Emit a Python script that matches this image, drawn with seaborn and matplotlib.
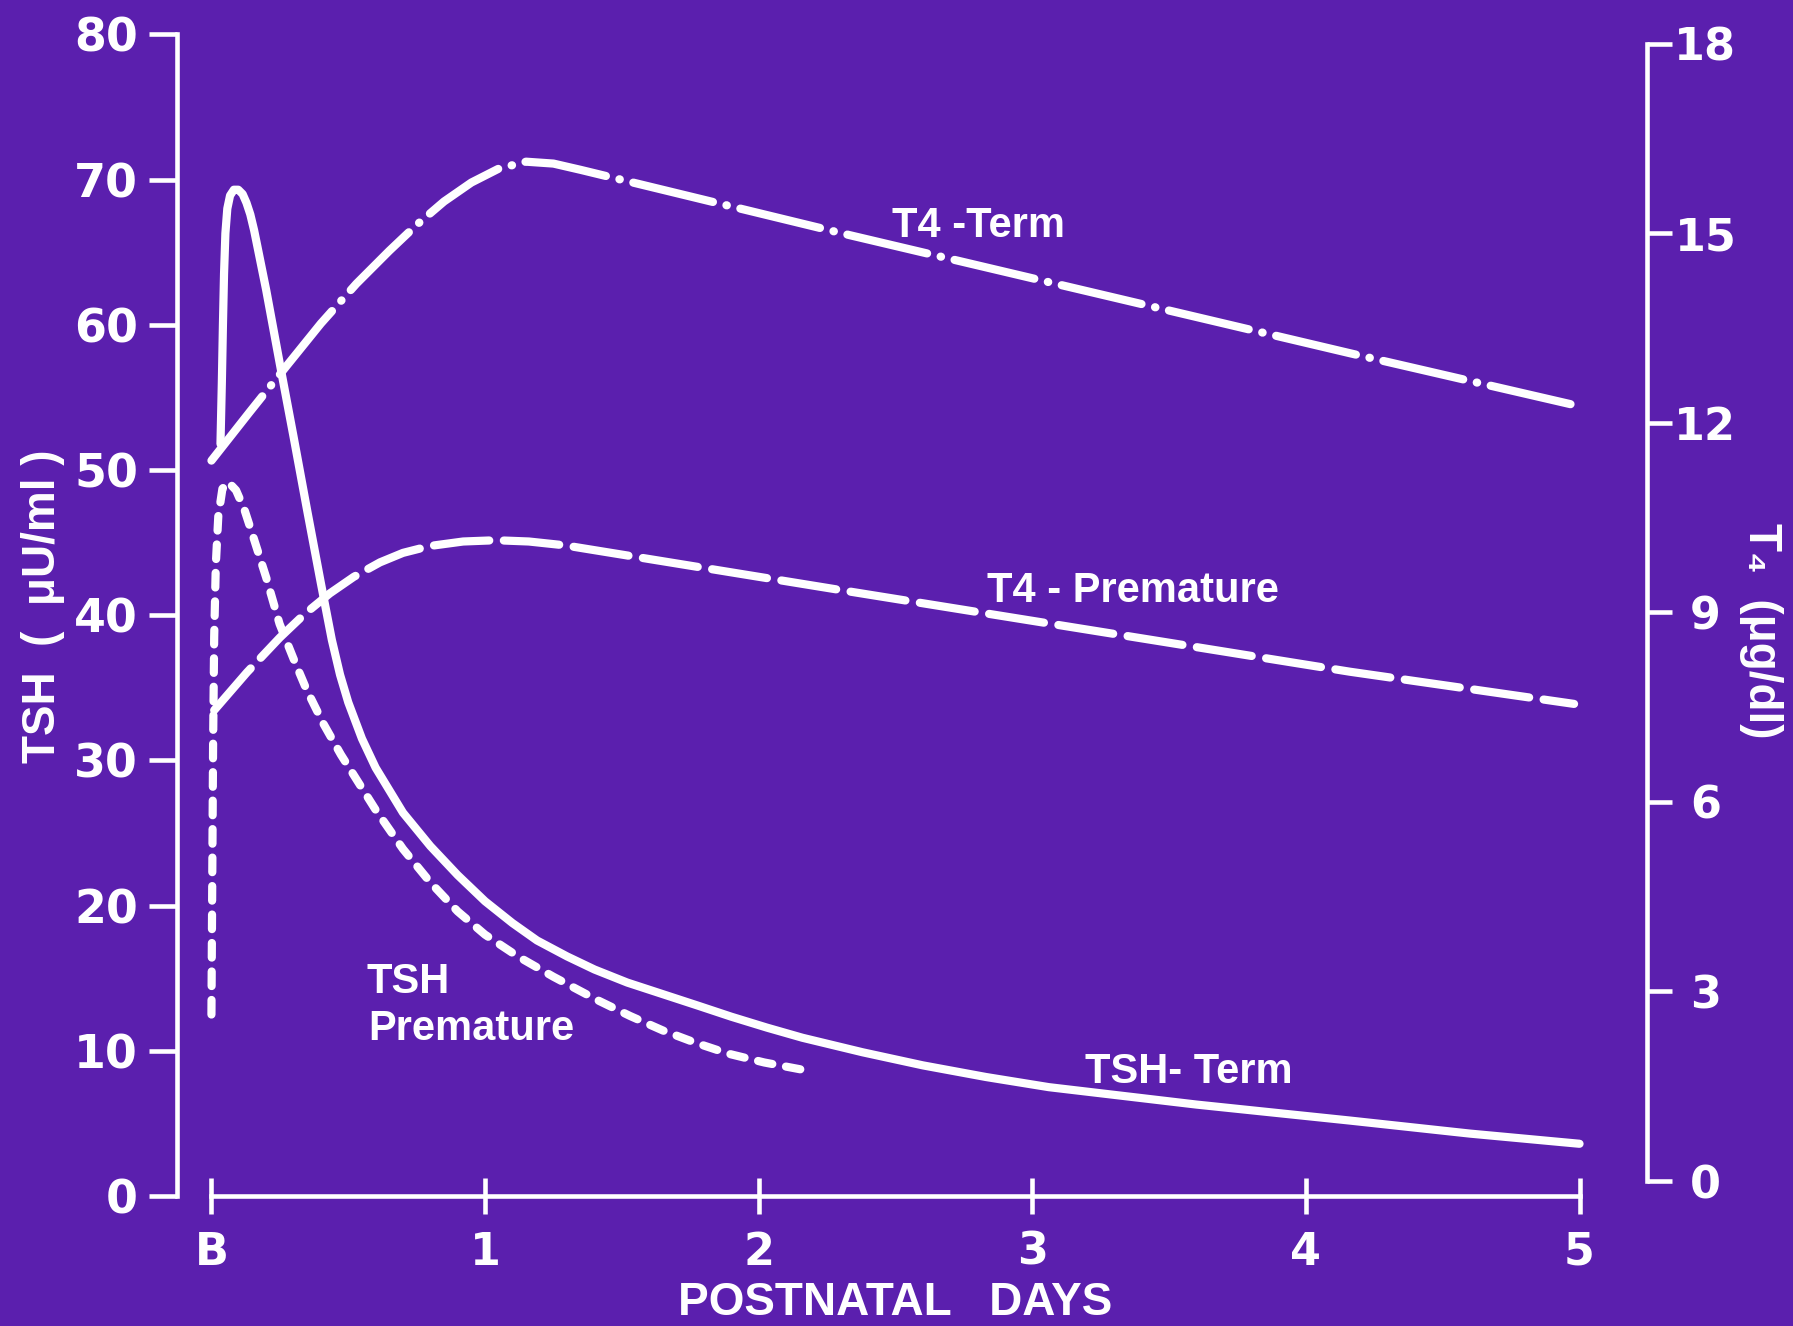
import matplotlib
matplotlib.use("Agg")
import matplotlib.pyplot as plt
import seaborn as sns

# Serum TSH (µU/ml) by postnatal day
tsh_term_day = [0.033, 0.038, 0.042, 0.046, 0.051, 0.058, 0.068, 0.082, 0.098, 0.114,
                0.128, 0.142, 0.156, 0.17, 0.2, 0.25, 0.3, 0.35, 0.4, 0.44, 0.47, 0.5,
                0.55, 0.6, 0.7, 0.8, 0.9, 1.0, 1.1, 1.19, 1.3, 1.4, 1.52, 1.65, 1.78,
                1.9, 2.03, 2.16, 2.38, 2.6, 2.83, 3.06, 3.33, 3.6, 3.88, 4.16, 4.38,
                4.6, 4.8, 5.0]
tsh_term_val = [51.8, 56.0, 60.0, 63.5, 66.3, 68.0, 68.9, 69.3, 69.3, 69.0,
                68.4, 67.6, 66.5, 65.2, 62.4, 57.3, 52.3, 47.2, 42.2, 38.3, 35.9, 34.0,
                31.5, 29.5, 26.4, 24.1, 22.1, 20.3, 18.8, 17.6, 16.5, 15.6, 14.7, 13.9, 13.1,
                12.35, 11.6, 10.9, 9.9, 9.0, 8.2, 7.5, 6.9, 6.3, 5.75, 5.2, 4.75,
                4.3, 3.95, 3.6]

tsh_prem_day = [0.0, 0.003, 0.006, 0.01, 0.016, 0.025, 0.04, 0.06, 0.09, 0.12, 0.151,
                0.2, 0.249, 0.3, 0.347, 0.41, 0.473, 0.6, 0.7, 0.8, 0.9, 1.0, 1.12,
                1.25, 1.41, 1.53, 1.65, 1.77, 1.89, 2.02, 2.16]
tsh_prem_val = [12.5, 22.0, 31.0, 38.5, 43.5, 46.8, 48.7, 49.2, 48.6, 47.3, 45.5,
                42.6, 39.4, 37.0, 34.9, 32.5, 30.4, 26.6, 23.9, 21.6, 19.6, 18.0, 16.5,
                15.1, 13.5, 12.4, 11.4, 10.55, 9.8, 9.2, 8.7]

# Serum T4 (µg/dl) by postnatal day
t4_term_day = [0.0, 0.14, 0.275, 0.4, 0.53, 0.65, 0.75, 0.85, 0.95, 1.05, 1.15, 1.25,
               1.35, 2.33, 4.16, 5.0]
t4_term_val = [11.4, 12.17, 12.9, 13.57, 14.2, 14.72, 15.13, 15.5, 15.8, 16.02, 16.13,
               16.1, 16.0, 14.97, 13.1, 12.26]

t4_prem_day = [0.01, 0.13, 0.25, 0.34, 0.433, 0.52, 0.616, 0.7, 0.8, 0.92, 1.04, 1.16,
               1.29, 2.33, 4.16, 4.98]
t4_prem_val = [7.45, 8.05, 8.6, 8.97, 9.3, 9.56, 9.79, 9.94, 10.05, 10.12, 10.14, 10.12,
               10.06, 9.33, 8.06, 7.55]

day_ticks = [0, 1, 2, 3, 4, 5]
day_labels = ["B", "1", "2", "3", "4", "5"]
tsh_ticks = [0, 10, 20, 30, 40, 50, 60, 70, 80]
t4_ticks = [0, 3, 6, 9, 12, 15, 18]

BG = "#5b1fae"
FG = "white"
LW = 5.9
SPINE_W = 3.3

sns.set_style("ticks")
plt.rcParams.update({
    "font.family": ["DejaVu Sans"],
    "font.weight": "bold",
    "lines.scale_dashes": False,
    "figure.facecolor": BG,
    "savefig.facecolor": BG,
})
WORD_FONT = ["Liberation Sans", "DejaVu Sans"]

fig = plt.figure(figsize=(17.93, 13.26), dpi=100)
ax = fig.add_axes([0.0987, 0.098, 0.8199, 0.8761])
ax.set_facecolor(BG)
ax2 = ax.twinx()


def draw(axis, days, vals, pattern):
    sns.lineplot(x=days, y=vals, ax=axis, color=FG, linewidth=LW,
                 sort=False, estimator=None)
    line = axis.lines[-1]
    line.set_clip_on(False)
    line.set_solid_capstyle("round")
    line.set_dash_capstyle("round")
    line.set_solid_joinstyle("round")
    line.set_dash_joinstyle("round")
    if pattern is not None:
        line.set_linestyle((0, pattern))


draw(ax, tsh_term_day, tsh_term_val, None)
draw(ax, tsh_prem_day, tsh_prem_val, (10.5, 10.0))
draw(ax2, t4_term_day, t4_term_val, (59, 10.0, 0.3, 10.0))
draw(ax2, t4_prem_day, t4_prem_val, (40, 10.5))

# axis ranges
ax.set_xlim(-0.126, 5.2467)
ax.set_ylim(0, 80)
ax2.set_ylim(-0.2374, 18.145)

# spines
for s in ("top", "right"):
    ax.spines[s].set_visible(False)
for s in ("top", "left", "bottom"):
    ax2.spines[s].set_visible(False)
for sp in (ax.spines["left"], ax.spines["bottom"], ax2.spines["right"]):
    sp.set_color(FG)
    sp.set_linewidth(SPINE_W)
    sp.set_capstyle("projecting")
ax.spines["left"].set_bounds(0, 80)
ax.spines["bottom"].set_bounds(0, 5)
ax2.spines["right"].set_bounds(0, 18)

# ticks
ax.set_xticks(day_ticks)
ax.set_xticklabels(day_labels)
ax.set_yticks(tsh_ticks)
ax2.set_yticks(t4_ticks)
ax.tick_params(axis="x", direction="inout", length=26, width=SPINE_W,
               color=FG, labelcolor=FG, labelsize=32, pad=12)
ax.tick_params(axis="y", direction="out", length=20, width=SPINE_W,
               color=FG, labelcolor=FG, labelsize=33, pad=8)
ax2.tick_params(axis="y", direction="out", length=18, width=SPINE_W,
                color=FG, labelcolor=FG, labelsize=32, pad=24)
for lbl in ax2.get_yticklabels():
    lbl.set_ha("center")
for lbl in ax.get_xticklabels() + ax.get_yticklabels() + ax2.get_yticklabels():
    lbl.set_fontweight("bold")

ax.set_xlabel("")
ax.set_ylabel("")
ax2.set_ylabel("")

# axis titles
fig.text(0.024, 0.543, "TSH  (  μU/ml )", rotation=90, ha="center", va="center",
         color=FG, fontsize=33, fontweight="bold", family=WORD_FONT)
fig.text(0.982, 0.524, "T₄  (μg/dl)", rotation=270, ha="center", va="center",
         color=FG, fontsize=33, fontweight="bold", family=WORD_FONT)
fig.text(0.499, 0.017, "POSTNATAL   DAYS", ha="center", va="center",
         color=FG, fontsize=33, fontweight="bold", family=WORD_FONT)

# curve labels
label_kw = dict(color=FG, fontsize=30, fontweight="bold", family=WORD_FONT,
                ha="left", va="baseline")
ax.text(2.486, 66.05, "T4 -Term", **label_kw)
ax.text(2.833, 40.93, "T4 - Premature", **label_kw)
ax.text(0.567, 13.96, "TSH", **label_kw)
ax.text(0.572, 10.74, "Premature", **label_kw)
ax.text(3.193, 7.76, "TSH- Term", **label_kw)

fig.savefig("out.png", dpi=100)
